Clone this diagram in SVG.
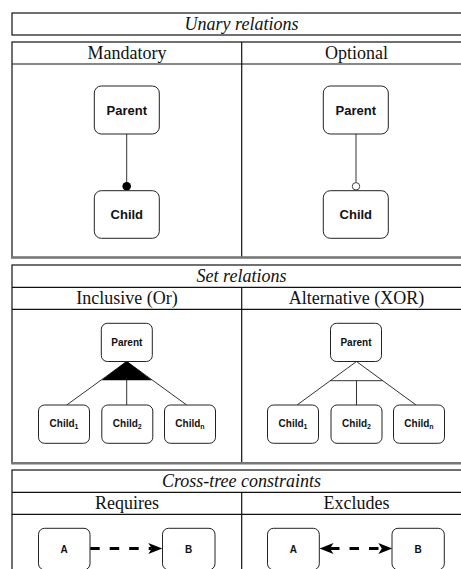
<svg xmlns="http://www.w3.org/2000/svg" width="461" height="569" viewBox="0 0 461 569">
  <style>
    .frame { fill: none; stroke: #111; stroke-width: 1.2; }
    .rule { stroke: #111; stroke-width: 1.2; }
    .base { stroke: #777; stroke-width: 2.5; }
    .title { font-family: "Liberation Serif", "Times New Roman", serif; font-size: 18px; font-style: italic; fill: #111; text-anchor: middle; }
    .head { font-family: "Liberation Serif", "Times New Roman", serif; font-size: 18px; fill: #111; text-anchor: middle; }
    .node rect { fill: #fff; stroke: #222; stroke-width: 1; }
    .lbl { font-family: "Liberation Sans", Arial, sans-serif; font-weight: bold; fill: #111; text-anchor: middle; }
    .big { font-size: 13px; }
    .small { font-size: 10px; }
    .edge { stroke: #333; stroke-width: 1; fill: none; }
    .dash { stroke: #000; stroke-width: 3; stroke-dasharray: 9.5 10; fill: none; }
  </style>
  <defs>
    <marker id="arrow" markerUnits="userSpaceOnUse" markerWidth="15" markerHeight="13" refX="3.5" refY="6" orient="auto-start-reverse">
      <path d="M14,6 L0,0.5 L3.5,6 L0,11.5 Z" fill="#000"/>
    </marker>
  </defs>

  <rect width="461" height="569" fill="#fff"/>

  <!-- Unary relations -->
  <g id="unary-frame">
    <rect class="frame" x="12" y="13" width="459" height="22"/>
    <text class="title" x="241.5" y="29.5">Unary relations</text>
    <rect class="frame" x="12" y="42" width="459" height="215.5"/>
    <line class="rule" x1="12" y1="64" x2="471" y2="64"/>
    <line class="rule" x1="241.7" y1="42" x2="241.7" y2="257.5"/>
    <line class="base" x1="11" y1="257.5" x2="471" y2="257.5"/>
    <text class="head" x="127" y="58.5">Mandatory</text>
    <text class="head" x="356.5" y="58.5">Optional</text>
  </g>

  <!-- Set relations -->
  <g id="set-frame">
    <rect class="frame" x="12" y="265" width="459" height="198"/>
    <line class="rule" x1="12" y1="287.3" x2="471" y2="287.3"/>
    <line class="rule" x1="12" y1="309.3" x2="471" y2="309.3"/>
    <line class="rule" x1="241.7" y1="287.3" x2="241.7" y2="463"/>
    <line class="base" x1="11" y1="463.3" x2="471" y2="463.3"/>
    <text class="title" x="241.5" y="281.5">Set relations</text>
    <text class="head" x="127" y="303.5">Inclusive (Or)</text>
    <text class="head" x="356.5" y="303.5">Alternative (XOR)</text>
  </g>

  <!-- Cross-tree constraints -->
  <g id="cross-frame">
    <rect class="frame" x="12" y="470" width="459" height="120"/>
    <line class="rule" x1="12" y1="492.3" x2="471" y2="492.3"/>
    <line class="rule" x1="12" y1="514.3" x2="471" y2="514.3"/>
    <line class="rule" x1="241.7" y1="492.3" x2="241.7" y2="569"/>
    <text class="title" x="241.5" y="486.5">Cross-tree constraints</text>
    <text class="head" x="127" y="508.5">Requires</text>
    <text class="head" x="356.5" y="508.5">Excludes</text>
  </g>

  <!-- connectors -->
  <g id="connectors">
    <!-- mandatory -->
    <line class="edge" x1="126.7" y1="134" x2="126.7" y2="183"/>
    <circle cx="126.7" cy="186.3" r="4.3" fill="#000"/>
    <!-- optional -->
    <line class="edge" x1="356" y1="134" x2="356" y2="182.5"/>
    <circle cx="356" cy="186.3" r="3.7" fill="#fff" stroke="#444" stroke-width="1"/>
    <!-- inclusive or -->
    <line class="edge" x1="126.7" y1="361.5" x2="66.7" y2="405"/>
    <line class="edge" x1="126.7" y1="361.5" x2="126.7" y2="405"/>
    <line class="edge" x1="126.7" y1="361.5" x2="186.7" y2="405"/>
    <polygon points="126.7,361 101.5,380.3 151.9,380.3" fill="#000"/>
    <!-- alternative xor -->
    <line class="edge" x1="356.5" y1="361.5" x2="297" y2="405"/>
    <line class="edge" x1="356.5" y1="361.5" x2="416" y2="405"/>
    <line class="edge" x1="330.2" y1="380.7" x2="382.8" y2="380.7"/>
    <line class="edge" x1="356.5" y1="380.7" x2="356.5" y2="405"/>
    <!-- requires -->
    <line class="dash" x1="90.2" y1="548.5" x2="151.8" y2="548.5" marker-end="url(#arrow)"/>
    <!-- excludes -->
    <line class="dash" x1="330" y1="548.5" x2="381.8" y2="548.5" marker-start="url(#arrow)" marker-end="url(#arrow)"/>
  </g>

  <!-- unary nodes -->
  <g id="mandatory-parent" class="node">
    <rect x="94.3" y="86" width="65" height="48" rx="7"/>
    <text class="lbl big" x="126.8" y="114.5">Parent</text>
  </g>
  <g id="mandatory-child" class="node">
    <rect x="94.3" y="190.7" width="65" height="47.6" rx="7"/>
    <text class="lbl big" x="126.8" y="219">Child</text>
  </g>
  <g id="optional-parent" class="node">
    <rect x="323.3" y="86" width="65" height="48" rx="7"/>
    <text class="lbl big" x="355.8" y="114.5">Parent</text>
  </g>
  <g id="optional-child" class="node">
    <rect x="323.3" y="190.7" width="65" height="47.6" rx="7"/>
    <text class="lbl big" x="355.8" y="219">Child</text>
  </g>

  <!-- inclusive (or) nodes -->
  <g id="or-parent" class="node">
    <rect x="101.3" y="323.3" width="51" height="38.2" rx="6"/>
    <text class="lbl small" x="126.8" y="345.8">Parent</text>
  </g>
  <g id="or-child-1" class="node">
    <rect x="38.5" y="405" width="51" height="38.3" rx="6"/>
    <text class="lbl small" x="64" y="427">Child<tspan font-size="7" dy="2">1</tspan></text>
  </g>
  <g id="or-child-2" class="node">
    <rect x="101.8" y="405" width="51" height="38.3" rx="6"/>
    <text class="lbl small" x="127.3" y="427">Child<tspan font-size="7" dy="2">2</tspan></text>
  </g>
  <g id="or-child-n" class="node">
    <rect x="164.5" y="405" width="51" height="38.3" rx="6"/>
    <text class="lbl small" x="190" y="427">Child<tspan font-size="7" dy="2">n</tspan></text>
  </g>

  <!-- alternative (xor) nodes -->
  <g id="xor-parent" class="node">
    <rect x="330.5" y="323.3" width="51" height="38.2" rx="6"/>
    <text class="lbl small" x="356" y="345.8">Parent</text>
  </g>
  <g id="xor-child-1" class="node">
    <rect x="267.5" y="405" width="51" height="38.3" rx="6"/>
    <text class="lbl small" x="293" y="427">Child<tspan font-size="7" dy="2">1</tspan></text>
  </g>
  <g id="xor-child-2" class="node">
    <rect x="331" y="405" width="51" height="38.3" rx="6"/>
    <text class="lbl small" x="356.5" y="427">Child<tspan font-size="7" dy="2">2</tspan></text>
  </g>
  <g id="xor-child-n" class="node">
    <rect x="393.5" y="405" width="51" height="38.3" rx="6"/>
    <text class="lbl small" x="419" y="427">Child<tspan font-size="7" dy="2">n</tspan></text>
  </g>

  <!-- cross-tree nodes -->
  <g id="requires-a" class="node">
    <rect x="38.5" y="528.3" width="51.5" height="41.5" rx="6"/>
    <text class="lbl small" x="64.2" y="552.5">A</text>
  </g>
  <g id="requires-b" class="node">
    <rect x="162.5" y="528.3" width="52.5" height="41.5" rx="6"/>
    <text class="lbl small" x="188.7" y="552.5">B</text>
  </g>
  <g id="excludes-a" class="node">
    <rect x="267.5" y="528.3" width="51.8" height="41.5" rx="6"/>
    <text class="lbl small" x="293.4" y="552.5">A</text>
  </g>
  <g id="excludes-b" class="node">
    <rect x="392" y="528.3" width="52.3" height="41.5" rx="6"/>
    <text class="lbl small" x="418.1" y="552.5">B</text>
  </g>
</svg>
